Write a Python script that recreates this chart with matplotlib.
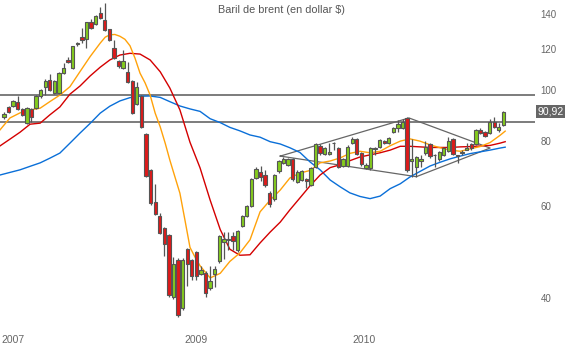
import matplotlib
matplotlib.use("Agg")
import matplotlib.pyplot as plt
import matplotlib.transforms as mtransforms
from matplotlib.ticker import FixedLocator, NullLocator
import numpy as np

plt.rcParams["font.family"] = ["Liberation Sans", "DejaVu Sans"]

# candles (one per period)
opens = [89.0, 92.8, 93.4, 94.8, 92.0, 86.4, 92.0, 92.6, 97.5, 101.6,
         104.5, 98.9, 98.6, 107.8, 114.3, 110.2, 122.4, 126.3, 125.2, 135.0,
         133.8, 140.4, 136.3, 130.9, 120.4, 113.8, 110.2, 108.6, 104.2, 94.0,
         97.5, 82.3, 70.4, 61.0, 57.4, 54.5, 52.7, 40.2, 47.4, 38.2,
         49.6, 47.2, 49.0, 44.5, 44.7, 41.8, 44.5, 47.0, 51.3, 51.6,
         52.6, 49.4, 55.0, 57.5, 60.1, 67.9, 69.7, 68.8, 63.7, 61.8,
         69.9, 72.6, 71.9, 73.7, 66.8, 67.3, 67.5, 65.9, 71.4, 78.2,
         75.4, 75.6, 79.3, 77.6, 71.6, 71.6, 79.2, 80.6, 75.7, 70.9,
         70.9, 77.3, 78.0, 79.9, 79.4, 83.1, 84.5, 84.6, 88.4, 73.3,
         71.2, 73.2, 75.7, 78.8, 75.3, 73.7, 75.2, 76.6, 80.6, 75.2,
         75.7, 77.0, 78.8, 78.8, 83.9, 83.2, 82.7, 87.0, 84.1, 85.8]
highs = [91.0, 93.3, 95.8, 97.5, 92.4, 92.8, 92.4, 98.0, 100.5, 104.9,
         107.5, 104.6, 108.2, 112.9, 116.0, 121.8, 123.8, 131.5, 135.4, 136.7,
         139.2, 144.2, 146.9, 131.3, 124.8, 114.3, 119.5, 113.4, 104.6, 103.9,
         98.0, 82.7, 70.8, 66.1, 58.1, 54.8, 53.0, 47.9, 47.7, 47.7,
         49.9, 47.5, 49.3, 46.1, 45.0, 46.1, 46.1, 52.9, 53.4, 53.4,
         53.4, 54.0, 57.7, 60.3, 68.0, 71.4, 71.6, 70.4, 64.0, 69.2,
         73.6, 74.6, 74.1, 74.1, 70.2, 70.3, 68.0, 71.3, 79.2, 78.8,
         77.8, 79.3, 79.6, 78.0, 74.1, 78.4, 81.5, 81.0, 76.1, 72.5,
         77.8, 77.7, 80.7, 80.3, 81.5, 85.0, 87.7, 88.1, 88.8, 80.8,
         74.8, 75.2, 79.9, 79.2, 75.4, 76.4, 78.0, 81.5, 81.0, 75.3,
         76.7, 79.1, 79.2, 84.3, 84.6, 83.6, 88.1, 89.0, 86.4, 91.3]
lows = [88.0, 90.5, 93.0, 91.6, 89.2, 86.0, 87.0, 92.2, 96.6, 98.0,
        99.6, 98.5, 98.2, 107.4, 112.6, 109.8, 121.7, 123.3, 120.4, 131.1,
        133.4, 137.0, 130.0, 124.4, 114.8, 110.5, 109.8, 103.2, 90.2, 93.6,
        84.7, 68.2, 60.3, 57.6, 53.0, 48.2, 40.2, 39.9, 36.8, 37.9,
        42.2, 43.3, 43.3, 44.2, 40.2, 41.5, 42.0, 46.7, 47.5, 49.4,
        49.4, 49.1, 54.7, 57.2, 59.8, 67.6, 66.9, 65.4, 59.8, 61.4,
        69.5, 72.1, 71.5, 67.1, 66.3, 67.0, 64.9, 65.5, 71.0, 75.2,
        75.0, 75.3, 76.7, 71.0, 71.2, 71.2, 78.8, 75.0, 71.7, 70.6,
        70.5, 75.0, 77.6, 78.8, 79.0, 82.7, 83.2, 84.2, 69.8, 68.2,
        68.3, 71.2, 75.3, 74.3, 71.4, 73.3, 74.8, 76.2, 75.0, 72.4,
        75.3, 76.8, 77.0, 78.4, 82.6, 81.4, 82.3, 84.6, 83.2, 85.4]
closes = [90.1, 91.0, 95.4, 92.0, 89.6, 92.4, 88.8, 97.5, 100.0, 104.2,
          100.0, 104.2, 107.8, 110.2, 113.2, 121.4, 123.3, 125.0, 135.0, 131.5,
          138.8, 137.3, 130.5, 124.8, 115.2, 111.3, 113.8, 103.6, 90.6, 101.6,
          85.1, 68.6, 60.7, 57.9, 53.3, 50.7, 40.5, 46.5, 37.1, 47.4,
          46.5, 44.1, 44.1, 45.3, 40.9, 43.2, 45.4, 52.6, 51.9, 51.9,
          51.5, 53.7, 57.4, 60.0, 67.6, 70.6, 68.3, 65.7, 60.5, 68.8,
          73.2, 73.8, 73.7, 67.5, 69.8, 69.9, 67.0, 70.9, 78.8, 75.7,
          77.4, 76.0, 79.1, 71.4, 73.7, 78.0, 80.6, 75.4, 72.1, 71.9,
          77.4, 77.5, 80.3, 79.2, 81.1, 84.6, 86.0, 87.0, 70.2, 73.7,
          74.4, 73.8, 78.0, 74.7, 75.0, 76.0, 77.6, 79.9, 75.4, 74.8,
          76.3, 77.6, 77.4, 83.9, 83.0, 81.8, 87.0, 85.0, 85.1, 90.92]

# moving averages, sampled along the candle index
fast_idx = [-0.9, 1.3, 3.5, 5.7, 7.9, 10.0, 12.2, 14.4, 16.6, 18.8, 21.0,
            22.1, 23.1, 24.2, 25.3, 26.4, 27.5, 28.6, 29.7, 30.8, 31.9,
            33.0, 34.1, 35.2, 36.2, 37.3, 38.4, 39.5, 40.6, 41.7, 42.8,
            45.0, 47.2, 49.3, 51.5, 53.7, 55.9, 58.1, 60.3, 62.4, 64.6,
            66.8, 69.0, 71.2, 73.4, 75.5, 77.7, 79.9, 82.1, 84.3, 86.5,
            88.6, 90.8, 93.0, 95.2, 97.4, 99.6, 101.7, 103.9, 106.1, 108.3, 109.4]
fast_ma = [83.9, 88.5, 90.5, 91.7, 92.4, 95.1, 97.9, 101.6, 108.6, 116.0, 123.1,
           126.4, 127.7, 127.9, 126.9, 125.2, 121.7, 115.2, 107.8, 103.3, 97.9,
           90.4, 85.1, 79.1, 73.5, 68.3, 63.5, 56.4, 50.0, 47.9, 46.1,
           43.7, 44.6, 47.0, 48.8, 51.7, 58.5, 61.6, 64.4, 67.9, 69.4,
           70.2, 72.6, 73.2, 74.2, 75.7, 76.4, 75.9, 76.4, 78.3, 79.9,
           80.7, 79.9, 78.6, 77.6, 76.8, 76.4, 77.2, 78.0, 79.4, 82.0, 83.5]

slow_idx = [-0.9, 1.3, 3.5, 5.7, 7.9, 10.0, 12.2, 14.4, 16.6, 18.8, 21.0,
            23.1, 25.3, 27.5, 29.7, 31.9, 34.1, 36.2, 38.4, 40.6, 42.8,
            45.0, 47.2, 49.3, 51.5, 53.7, 55.9, 58.1, 60.3, 62.4, 64.6,
            66.8, 69.0, 71.2, 73.4, 75.5, 77.7, 79.9, 82.1, 84.3, 86.5,
            88.6, 90.8, 93.0, 95.2, 97.4, 99.6, 101.7, 103.9, 106.1, 108.3, 109.4]
mid_ma = [78.2, 80.6, 83.1, 86.1, 86.5, 89.7, 92.9, 98.3, 101.9, 106.5, 110.7,
          114.3, 116.8, 117.7, 117.3, 114.3, 108.5, 101.0, 91.7, 79.5, 71.0,
          61.6, 54.1, 49.6, 48.3, 48.4, 51.0, 53.5, 55.9, 59.0, 62.2,
          65.6, 68.8, 71.1, 72.0, 73.3, 74.5, 75.2, 75.9, 76.8, 78.1,
          78.1, 77.9, 77.7, 77.7, 77.7, 77.9, 78.0, 78.2, 78.4, 79.2, 79.7]
long_ma = [68.8, 69.6, 70.4, 71.5, 72.6, 74.1, 75.8, 79.2, 82.8, 86.4, 90.4,
           93.2, 95.4, 96.8, 97.4, 97.5, 96.9, 95.1, 93.3, 92.1, 91.1,
           88.2, 86.7, 84.9, 83.6, 82.1, 81.3, 79.7, 78.9, 77.6, 76.0,
           72.9, 70.4, 67.3, 65.3, 63.6, 62.6, 62.0, 62.7, 64.8, 66.2,
           68.2, 69.9, 71.6, 72.8, 73.9, 74.8, 75.6, 76.2, 76.8, 77.5, 77.8]

# drawn lines: support/resistance and the diamond figure
levels = [97.9, 86.8]
diamond_idx = [60.3, 88.4, 106.1, 90.0, 60.3]
diamond_val = [74.8, 88.5, 77.5, 68.3, 74.8]

last_price = "90,92"
y_ticks = [40, 60, 80, 100, 120, 140]
year_pos = [-0.6, 39.3, 76.0]
year_labels = ["2007", "2009", "2010"]

green = "#84cc1d"
red = "#dd1a1a"
edge = "#555555"
grey = "#666666"

fig = plt.figure(figsize=(5.74, 3.45), dpi=100)
ax = fig.add_axes([0.0, 0.05, 0.932, 0.95])
ax.set_yscale("log")

x = np.arange(len(opens))
o = np.array(opens)
c = np.array(closes)
up = c >= o

ax.vlines(x, lows, highs, color=edge, lw=0.9, zorder=3)
ax.bar(x, np.abs(c - o), bottom=np.minimum(o, c), width=0.72,
       color=np.where(up, green, red), edgecolor=edge, linewidth=0.8, zorder=4)

ax.plot(slow_idx, long_ma, color="#0a6fd8", lw=1.0, zorder=2)
ax.plot(slow_idx, mid_ma, color="#d40000", lw=1.0, zorder=2)
ax.plot(fast_idx, fast_ma, color="#ffa20a", lw=1.0, zorder=2)

for lv in levels:
    ax.axhline(lv, color=grey, lw=1.2, zorder=1)
ax.plot(diamond_idx, diamond_val, color=grey, lw=0.9, zorder=1)

ax.set_xlim(-0.87, 115.9)
ax.set_ylim(35.08, 148.9)

for s in ax.spines.values():
    s.set_visible(False)

ax.yaxis.tick_right()
ax.yaxis.set_major_locator(FixedLocator(y_ticks))
ax.yaxis.set_minor_locator(NullLocator())
ax.set_yticklabels([str(t) for t in y_ticks])
ax.tick_params(axis="y", length=0, pad=4, labelsize=7, labelcolor=grey)

ax.set_xticks(year_pos)
ax.set_xticklabels(year_labels, ha="left")
ax.tick_params(axis="x", length=0, pad=5, labelsize=7.5, labelcolor=grey)

trans = mtransforms.blended_transform_factory(ax.transAxes, ax.transData)
ax.text(1.004, closes[-1], last_price, transform=trans, color="white",
        fontsize=7.5, va="center", ha="left",
        bbox=dict(boxstyle="square,pad=0.15", facecolor=grey, edgecolor="none"))

fig.text(0.491, 0.971, "Baril de brent (en dollar $)", ha="center", va="center",
         fontsize=7.8, color="#555555")

fig.savefig("out.png", dpi=100)
